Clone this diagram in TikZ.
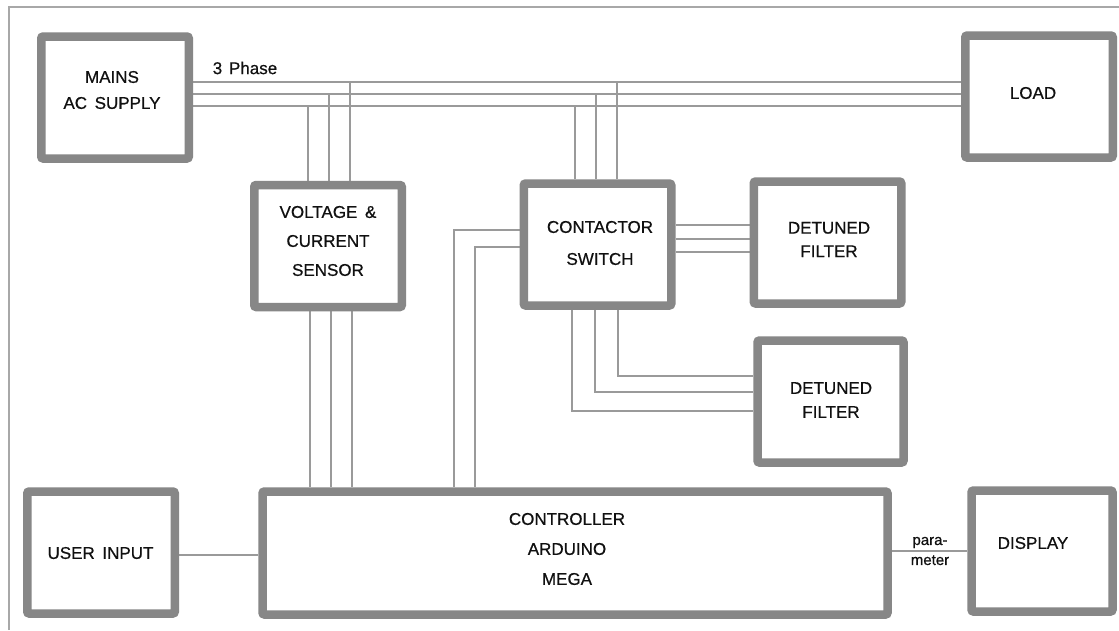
\documentclass[tikz,border=0pt]{standalone}
\usepackage{fontspec}
\setmainfont{Liberation Sans}[FakeBold=0.6]
\usetikzlibrary{backgrounds}
\definecolor{boxgray}{HTML}{878787}
\definecolor{wiregray}{HTML}{9A9A9A}
\definecolor{framegray}{HTML}{A8A8A8}
\definecolor{txtc}{HTML}{101010}
\tikzset{
  blk/.style={draw=boxgray, line width=8.5pt, fill=white, rounded corners=2pt,
    inner sep=0pt, minimum width=147.5pt, minimum height=122pt},
  wire/.style={draw=wiregray, line width=1.3pt},
  frameline/.style={draw=framegray, line width=1.5pt},
  txt/.style={text=txtc, align=center, inner sep=0pt},
}
\begin{document}
\begin{tikzpicture}[x=1pt, y=-1pt]
\useasboundingbox (0,0) rectangle (1119,630);

% boxes
\node[blk] (mains) at (115,97.5) {};
\node[blk] (load) at (1039,96.5) {};
\node[blk] (sensor) at (328,246) {};
\node[blk] (contactor) at (597.5,244.5) {};
\node[blk] (filterA) at (827.5,242.5) {};
\node[blk, minimum width=146pt] (filterB) at (830.5,401.5) {};
\node[blk] (user) at (101,552.5) {};
\node[blk, minimum width=625pt, minimum height=123pt] (ctrl) at (575,553) {};
\node[blk, minimum width=141pt, minimum height=121pt] (display) at (1042,551) {};

% texts
\node[txt, font=\fontsize{17}{26}\selectfont] (mainsT) at (112,90) {MAINS\\AC\hspace{0.45em}SUPPLY};
\node[txt, font=\fontsize{17}{20}\selectfont] (loadT) at (1033,93) {LOAD};
\node[txt, font=\fontsize{17}{29}\selectfont] (sensorT) at (328,241) {VOLTAGE\hspace{0.45em}\&\\CURRENT\\SENSOR};
\node[txt, font=\fontsize{17}{32}\selectfont] (contT) at (600,243) {CONTACTOR\\SWITCH};
\node[txt, font=\fontsize{17}{23.5}\selectfont] (fAT) at (829,239.5) {DETUNED\\FILTER};
\node[txt, font=\fontsize{17}{24}\selectfont] (fBT) at (831,400) {DETUNED\\FILTER};
\node[txt, font=\fontsize{17}{20}\selectfont] (userT) at (100.5,553) {USER\hspace{0.45em}INPUT};
\node[txt, font=\fontsize{17}{30}\selectfont] (ctrlT) at (567,549) {CONTROLLER\\ARDUINO\\MEGA};
\node[txt, font=\fontsize{17}{20}\selectfont] (dispT) at (1033,543) {DISPLAY};
\node[txt, font=\fontsize{15}{20}\selectfont] (paraT) at (930,551) {para-\\meter};
\node[txt, font=\fontsize{17}{20}\selectfont] (phaseT) at (245,68) {3\hspace{0.4em}Phase};

\begin{pgfonlayer}{background}
\fill[white] (0,0) rectangle (1119,630);
% frame
\draw[frameline] (9,630) -- (9,7) -- (1119,7);
% 3 phase bus
\draw[wire] (mains.east |- 0,82) -- (load.west |- 0,82);
\draw[wire] (mains.east |- 0,94) -- (load.west |- 0,94);
\draw[wire] (mains.east |- 0,106) -- (load.west |- 0,106);
% taps to sensor
\draw[wire] (sensor.north -| 350,0) -- (350,82);
\draw[wire] (sensor.north -| 329,0) -- (329,94);
\draw[wire] (sensor.north -| 308,0) -- (308,106);
% taps to contactor
\draw[wire] (contactor.north -| 617,0) -- (617,82);
\draw[wire] (contactor.north -| 596,0) -- (596,94);
\draw[wire] (contactor.north -| 575,0) -- (575,106);
% sensor to controller
\draw[wire] (sensor.south -| 310,0) -- (ctrl.north -| 310,0);
\draw[wire] (sensor.south -| 331,0) -- (ctrl.north -| 331,0);
\draw[wire] (sensor.south -| 352,0) -- (ctrl.north -| 352,0);
% contactor to filter A
\draw[wire] (contactor.east |- 0,225) -- (filterA.west |- 0,225);
\draw[wire] (contactor.east |- 0,239) -- (filterA.west |- 0,239);
\draw[wire] (contactor.east |- 0,252) -- (filterA.west |- 0,252);
% contactor to filter B
\draw[wire] (contactor.south -| 618,0) |- (filterB.west |- 0,376);
\draw[wire] (contactor.south -| 595,0) |- (filterB.west |- 0,392);
\draw[wire] (contactor.south -| 572,0) |- (filterB.west |- 0,411);
% contactor to controller
\draw[wire] (contactor.west |- 0,230) -| (ctrl.north -| 454,0);
\draw[wire] (contactor.west |- 0,247) -| (ctrl.north -| 475,0);
% user input and display
\draw[wire] (user.east |- 0,555) -- (ctrl.west |- 0,555);
\draw[wire] (ctrl.east |- 0,551) -- (display.west |- 0,551);
\end{pgfonlayer}
\end{tikzpicture}
\end{document}
